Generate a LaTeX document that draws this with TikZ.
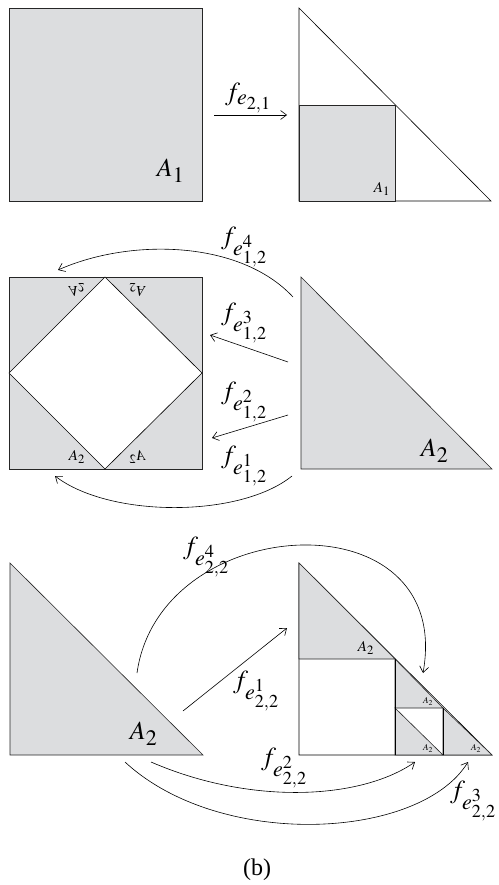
\documentclass[tikz,border=0pt]{standalone}
\usepackage{mathptmx}
\usepackage{fontspec}
\setmainfont{Liberation Serif}
\usetikzlibrary{arrows.meta}
\definecolor{shadegray}{RGB}{220,221,223}
\DeclareMathSizes{10}{10}{8.5}{7}

\begin{document}
\begin{tikzpicture}[x=1pt, y=-1pt, line width=0.6pt, >={Straight Barb[length=6pt, width=9pt]},
  every node/.style={font=\fontsize{10}{12}\selectfont},
  shaded/.style={fill=shadegray, draw=black!85},
  big/.style={scale=2.6},
  map/.style={scale=2.6},
  small/.style={scale=1.5},
  tiny/.style={scale=0.9}]
  \useasboundingbox (0,0) rectangle (498,885);

  % top row
  \draw[shaded] (9,8) rectangle (202,201);
  \node[big] (bigA1) at (171,171) {$A_1$};
  \draw (299,8) -- (299,201) -- (491,201) -- cycle;
  \draw[shaded] (299,105) rectangle (395,201);
  \node[small] (smallA1) at (382,189) {$A_1$};
  \coordinate (t1) at (214,115);
  \coordinate (t2) at (287,115);
  \draw[->] (t1) -- (t2);
  \node[map] (fe21) at (249,98) {$f_{e_{2,1}}$};

  % middle row
  \draw[shaded] (9,277) rectangle (202,469);
  \draw[fill=white] (105,277) -- (202,373) -- (105,469) -- (9,373) -- cycle;
  \node[small] (sqA) at (77,457) {$A_2$};
  \node[small, xscale=-1] (sqB) at (137,457) {$A_2$};
  \node[small, yscale=-1] (sqC) at (77,290) {$A_2$};
  \node[small, rotate=180] (sqD) at (137,290) {$A_2$};
  \draw[shaded] (301,277) -- (301,469) -- (492,469) -- cycle;
  \node[big] (midA2) at (435,451) {$A_2$};

  \coordinate (m4s) at (293,297);
  \coordinate (m4e) at (58,270);
  \coordinate (m3s) at (288,362);
  \coordinate (m3e) at (210,335);
  \coordinate (m2s) at (288,415);
  \coordinate (m2e) at (212,438);
  \coordinate (m1s) at (292,476);
  \coordinate (m1e) at (55,476);
  \draw[->] (m4s) .. controls (240,240) and (130,238) .. (m4e);
  \draw[->] (m3s) -- (m3e);
  \draw[->] (m2s) -- (m2e);
  \draw[->] (m1s) .. controls (240,518) and (110,518) .. (m1e);
  \node[map] (fe4a) at (245,247) {$f_{e^4_{1,2}}$};
  \node[map] (fe3a) at (245,323) {$f_{e^3_{1,2}}$};
  \node[map] (fe2a) at (245,402) {$f_{e^2_{1,2}}$};
  \node[map] (fe1a) at (245,466) {$f_{e^1_{1,2}}$};

  % bottom row
  \draw[shaded] (10,563) -- (10,755) -- (203,755) -- cycle;
  \node[big] (botA2) at (144,734) {$A_2$};
  \draw (299,563) -- (299,755) -- (492,755) -- cycle;
  \draw[shaded] (299,563) -- (299,659) -- (395,659) -- cycle;
  \draw[shaded] (395,659) -- (395,708) -- (443,708) -- cycle;
  \draw[shaded] (395,708) -- (395,755) -- (443,755) -- cycle;
  \draw[shaded] (443,708) -- (443,755) -- (492,755) -- cycle;
  \draw (395,659) -- (395,755);
  \draw (443,708) -- (443,755);
  \node[small] (subA) at (366,648) {$A_2$};
  \node[tiny] (subB) at (428,701) {$A_2$};
  \node[tiny] (subC) at (428,748) {$A_2$};
  \node[tiny] (subD) at (476,748) {$A_2$};

  \coordinate (b4s) at (137,673);
  \coordinate (b4e) at (423,673);
  \coordinate (b1s) at (183,711);
  \coordinate (b1e) at (287,628);
  \coordinate (b2s) at (151,762);
  \coordinate (b2e) at (415,762);
  \coordinate (b3s) at (125,762);
  \coordinate (b3e) at (468,762);
  \draw[->] (b4s) .. controls (160,510) and (455,495) .. (b4e);
  \draw[->] (b1s) -- (b1e);
  \draw[->] (b2s) .. controls (250,805) and (360,800) .. (b2e);
  \draw[->] (b3s) .. controls (220,850) and (420,840) .. (b3e);
  \node[map] (fe4b) at (207,557) {$f_{e^4_{2,2}}$};
  \node[map] (fe1b) at (257,691) {$f_{e^1_{2,2}}$};
  \node[map] (fe2b) at (285,768) {$f_{e^2_{2,2}}$};
  \node[map] (fe3b) at (474,801) {$f_{e^3_{2,2}}$};

  \node[font=\fontsize{24}{26}\selectfont] (cap) at (257,870) {(b)};
\end{tikzpicture}
\end{document}
